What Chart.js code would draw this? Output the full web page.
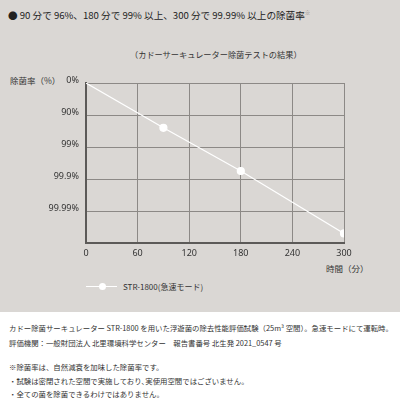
<!DOCTYPE html>
<html lang="ja">

<head>
    <meta charset="UTF-8">
    <title>除菌テストの結果</title>
    <style>
        body {
            margin: 0;
            width: 400px;
            height: 400px;
            position: relative;
            overflow: hidden;
            background: #fff;
            font-family: "Noto Sans CJK JP", "Noto Sans", sans-serif;
            color: #333;
        }

        .panel {
            position: absolute;
            left: 0;
            top: 0;
            width: 400px;
            height: 312px;
            background: #dad7d4;
        }

        .txt {
            position: absolute;
            white-space: nowrap;
            line-height: 1;
        }

        .note {
            left: 9px;
            font-size: 7.4px;
        }

        #chartBox {
            position: absolute;
            left: 0;
            top: 0;
            width: 400px;
            height: 400px;
        }
    </style>
</head>

<body>
    <div class="panel"></div>

    <div class="txt" style="left:8px;top:11px;font-size:9.6px;color:#222;">● 90 分で 96%、180 分で 99% 以上、300 分で 99.99% 以上の除菌率<sup style="font-size:5.5px;color:#888;">※</sup></div>
    <div class="txt" style="left:130px;top:50px;font-size:8.2px;">（カドーサーキュレーター除菌テストの結果）</div>
    <div class="txt" style="left:10px;top:76px;font-size:8.5px;">除菌率（%）</div>
    <div class="txt" style="left:326px;top:264px;font-size:8.5px;">時間（分）</div>

    <div style="position:absolute;left:86px;top:286px;width:31px;height:1px;background:#fff;"></div>
    <div style="position:absolute;left:98.5px;top:283px;width:7px;height:7px;border-radius:50%;background:#fff;"></div>
    <div class="txt" style="left:123px;top:283px;font-size:8px;">STR-1800(急速モード)</div>

    <div class="txt note" style="top:324px;">カドー除菌サーキュレーター STR-1800 を用いた浮遊菌の除去性能評価試験（25m³ 空間）。急速モードにて運転時。</div>
    <div class="txt note" style="top:339px;">評価機関：一般財団法人 北里環境科学センター　報告書番号 北生発 2021_0547 号</div>
    <div class="txt note" style="top:363px;">※除菌率は、自然減衰を加味した除菌率です。</div>
    <div class="txt note" style="top:377px;">・試験は密閉された空間で実施しており､実使用空間ではございません。</div>
    <div class="txt note" style="top:390px;">・全ての菌を除菌できるわけではありません。</div>

    <div id="chartBox">
        <canvas id="myChart"></canvas>
    </div>

    <script src="https://cdn.jsdelivr.net/npm/chart.js/dist/chart.umd.min.js"></script>
    <script>
        // minutes and log-reduction
        const minutes = [0, 90, 180, 300];
        const logReduction = [0, 1.4, 2.75, 4.7];
        const yTickLabels = ['0%', '90%', '99%', '99.9%', '99.99%', ''];
        const xTicks = [0, 60, 120, 180, 240, 300];

        const points = minutes.map((m, i) => ({ x: m, y: logReduction[i] }));

        const config = {
            type: 'line',
            data: {
                datasets: [{
                    label: 'STR-1800(急速モード)',
                    data: points,
                    borderColor: '#ffffff',
                    borderWidth: 1.2,
                    backgroundColor: '#ffffff',
                    pointBackgroundColor: '#ffffff',
                    pointBorderColor: '#ffffff',
                    pointRadius: [0, 3.5, 3.5, 3.5],
                    tension: 0
                }]
            },
            options: {
                responsive: true,
                maintainAspectRatio: false,
                animation: false,
                layout: {
                    padding: { left: 0, top: 83, right: 56, bottom: 0 }
                },
                plugins: {
                    legend: { display: false },
                    tooltip: { enabled: false }
                },
                scales: {
                    x: {
                        type: 'linear',
                        min: 0,
                        max: 300,
                        afterBuildTicks: (scale) => {
                            scale.ticks = xTicks.map(v => ({ value: v }));
                        },
                        afterFit: (scale) => { scale.height = 157; },
                        grid: { color: '#8c8986', lineWidth: 1, drawTicks: false },
                        border: { color: '#5c5a58', width: 2 },
                        ticks: {
                            padding: 5,
                            color: '#333',
                            font: { size: 9, family: '"Noto Sans", sans-serif' }
                        }
                    },
                    y: {
                        type: 'linear',
                        min: 0,
                        max: 5,
                        reverse: true,
                        afterFit: (scale) => { scale.width = 86; },
                        grid: { color: '#8c8986', lineWidth: 1, drawTicks: false },
                        border: { color: '#5c5a58', width: 2 },
                        ticks: {
                            stepSize: 1,
                            padding: 7,
                            labelOffset: -3,
                            color: '#333',
                            font: { size: 9, family: '"Noto Sans", sans-serif' },
                            callback: (v) => yTickLabels[v]
                        }
                    }
                }
            }
        };

        const myChart = new Chart(document.getElementById('myChart'), config);
    </script>
</body>

</html>
